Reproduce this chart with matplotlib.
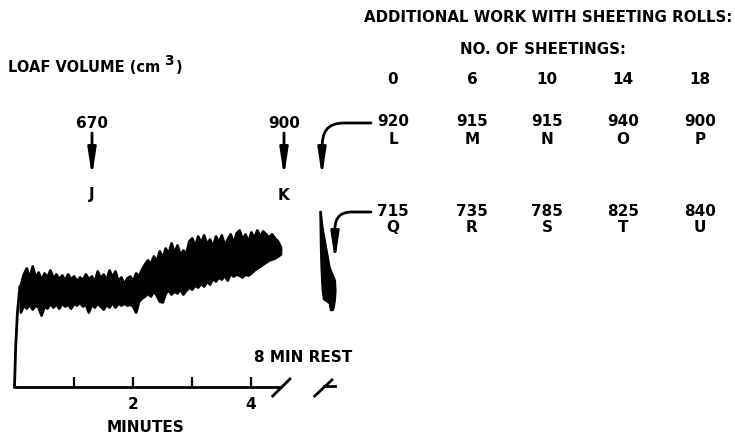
import matplotlib.pyplot as plt
from matplotlib.path import Path
from matplotlib.patches import FancyArrowPatch
import numpy as np

# mixing trace (minutes, trace height in chart units)
trace_t = np.round(np.arange(0.10, 4.501, 0.05), 2)
trace_top = [102, 113, 119, 109, 121, 110, 115, 107, 114, 110, 117, 109, 113, 108, 112,
             107, 113, 108, 111, 106, 110, 107, 113, 108, 111, 105, 116, 109, 113, 107,
             117, 110, 116, 106, 110, 103, 109, 111, 106,
             114, 111, 118, 123, 127, 123, 131, 126, 136, 129, 139, 133, 144, 134, 142,
             132, 137, 133, 146, 149,
             141, 151, 144, 152, 143, 148, 140, 151, 145, 152, 142, 148, 153, 144, 154,
             157, 148, 153, 145, 155, 149, 157, 151, 156, 153, 150, 153, 149, 146, 140]
trace_bottom = [75, 82, 79, 83, 78, 82, 80, 72, 81, 79, 84, 80, 83, 79, 84,
                81, 83, 79, 84, 82, 85, 81, 83, 75, 83, 80, 84, 81, 78, 83,
                80, 85, 80, 84, 82, 84, 82, 83, 81,
                75, 86, 89, 91, 94, 91, 96, 92, 86, 85, 94, 97, 93, 96, 94,
                98, 93, 97, 100, 98,
                102, 100, 104, 101, 106, 103, 109, 106, 110, 108, 112, 107, 114, 111, 113,
                112, 110, 113, 112, 114, 117, 119, 121, 123, 125, 127, 128, 129, 131, 133]
rise_t = [0.0, 0.02, 0.05, 0.09]
rise_h = [0, 40, 75, 100]

# trace after the 8 min rest
rest_h = [176, 160, 140, 120, 107, 97, 88, 84, 80, 77]
rest_left = [5.16, 5.165, 5.17, 5.18, 5.19, 5.20, 5.22, 5.32, 5.33, 5.34]
rest_right = [5.18, 5.21, 5.27, 5.33, 5.42, 5.43, 5.42, 5.41, 5.40, 5.38]

# loaf volumes
early_vols = ["670", "900"]
early_labels = ["J", "K"]
sheetings = ["0", "6", "10", "14", "18"]
row1_vols = ["920", "915", "915", "940", "900"]
row1_labels = ["L", "M", "N", "O", "P"]
row2_vols = ["715", "735", "785", "825", "840"]
row2_labels = ["Q", "R", "S", "T", "U"]

W, H = 735, 438
X0, S, Y0 = 14.5, 59.1, 387

fig = plt.figure(figsize=(W / 100, H / 100), dpi=100)

# canvas in pixel units for the annotations
cv = fig.add_axes([0, 0, 1, 1])
cv.set_xlim(0, W)
cv.set_ylim(H, 0)
cv.axis("off")

# chart axes in minutes
ax = fig.add_axes([0, 0, 1, 1])
ax.patch.set_alpha(0)
ax.set_xlim(-X0 / S, (W - X0) / S)
ax.set_ylim(-(H - Y0), Y0)

ax.fill_between(trace_t, trace_bottom, trace_top, color="black", lw=2,
                edgecolor="black", joinstyle="round")
ax.plot(rise_t, rise_h, color="black", lw=2)
ax.fill_betweenx(rest_h, rest_left, rest_right, color="black", lw=1,
                 edgecolor="black")

for s in ["top", "right", "left"]:
    ax.spines[s].set_visible(False)
ax.spines["bottom"].set_position(("data", 0))
ax.spines["bottom"].set_bounds(0, 4.49)
ax.spines["bottom"].set_linewidth(2)
ax.set_yticks([])
ax.set_xticks([1, 2, 3, 4])
ax.set_xticklabels(["", "2", "", "4"], fontweight="bold", fontsize=11)
ax.tick_params(axis="x", direction="in", length=7, width=1.6, pad=7)

# axis break marks
ax.plot([4.37, 4.66], [-9, 8], color="black", lw=2)
ax.plot([5.08, 5.37], [-9, 7], color="black", lw=2)
ax.plot([5.24, 5.42], [1, 1], color="black", lw=2)

txt = dict(fontweight="bold", color="black", ha="center", va="center")
cv.text(146, 428, "MINUTES", fontsize=11, **txt)
cv.text(303, 358, "8 MIN REST", fontsize=11, **txt)
cv.text(8, 67, "LOAF VOLUME (cm", fontsize=10.5, fontweight="bold",
        ha="left", va="center")
cv.text(164, 61, "3", fontsize=10, fontweight="bold", ha="left", va="center")
cv.text(176, 67, ")", fontsize=10.5, fontweight="bold", ha="left", va="center")
cv.text(732, 17, "ADDITIONAL WORK WITH SHEETING ROLLS:", fontsize=10.8,
        fontweight="bold", ha="right", va="center")
cv.text(543, 49, "NO. OF SHEETINGS:", fontsize=10.8, **txt)

arrow_style = "-|>,head_length=1.6,head_width=0.24"
early_x = [92, 284]
for x, v, lab in zip(early_x, early_vols, early_labels):
    cv.text(x, 123, v, fontsize=11, **txt)
    cv.text(x, 195, lab, fontsize=11, **txt)
    cv.add_patch(FancyArrowPatch((x, 133), (x, 177), arrowstyle=arrow_style,
                                 mutation_scale=10, lw=2, color="black", shrinkA=0, shrinkB=0))

col_x = [393, 472, 547, 623, 700]
for i, x in enumerate(col_x):
    cv.text(x, 80, sheetings[i], fontsize=11, **txt)
    cv.text(x, 122, row1_vols[i], fontsize=11, **txt)
    cv.text(x, 139, row1_labels[i], fontsize=11, **txt)
    cv.text(x, 212, row2_vols[i], fontsize=11, **txt)
    cv.text(x, 228, row2_labels[i], fontsize=11, **txt)

# curved arrows from the sheeting table
p1 = Path([(371, 123), (345, 123), (326, 123), (322, 132), (322, 150), (322, 177)],
          [Path.MOVETO, Path.LINETO, Path.CURVE4, Path.CURVE4, Path.CURVE4, Path.LINETO])
p2 = Path([(371, 212), (352, 212), (338, 212), (334, 220), (335, 234), (335, 261)],
          [Path.MOVETO, Path.LINETO, Path.CURVE4, Path.CURVE4, Path.CURVE4, Path.LINETO])
for p in [p1, p2]:
    cv.add_patch(FancyArrowPatch(path=p, arrowstyle=arrow_style,
                                 mutation_scale=10, lw=2, color="black"))

plt.savefig("out.png", dpi=100)
